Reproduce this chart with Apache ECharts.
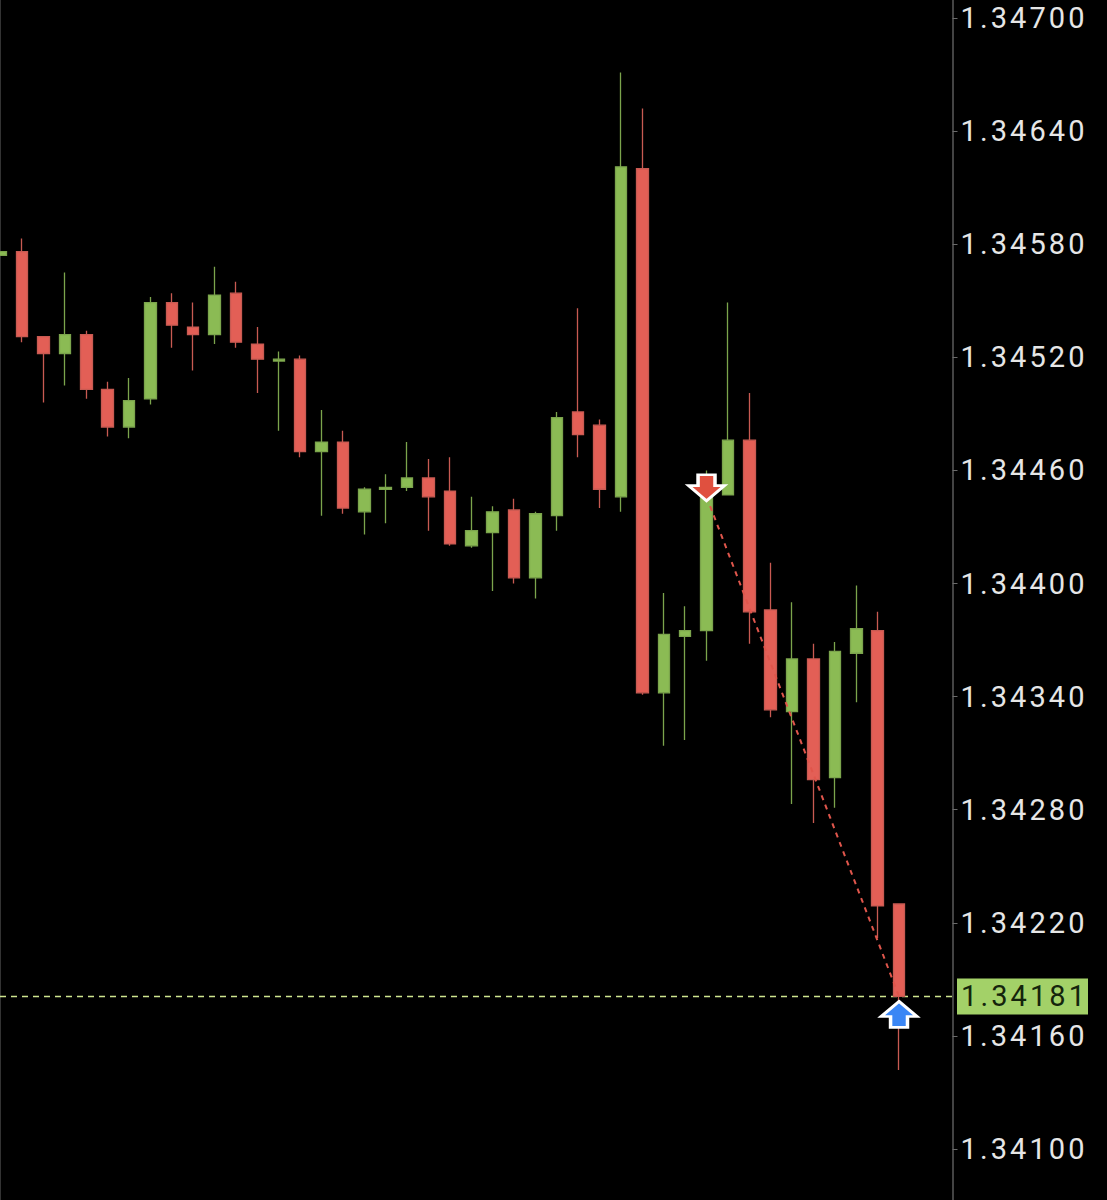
<!DOCTYPE html>
<html>
<head>
<meta charset="utf-8">
<style>
    html, body { margin: 0; padding: 0; background: #000; overflow: hidden; }
    /* first candle sits half off the page */
    #chart { width: 1117px; height: 1200px; margin-left: -10px; }
    #chart text { letter-spacing: 3.1px; }
</style>
<script src="https://cdn.jsdelivr.net/npm/echarts@6/dist/echarts.min.js"></script>
</head>
<body>
<div id="chart"></div>
<script>
// price per candle
const opens = [1.34574, 1.34576, 1.34531, 1.34522, 1.34532, 1.34503, 1.34483, 1.34498, 1.34549, 1.34536, 1.34532,
    1.34554, 1.34527, 1.34518, 1.34519, 1.34470, 1.34475, 1.34438, 1.34450, 1.34451, 1.34456, 1.34449,
    1.34420, 1.34427, 1.34439, 1.34403, 1.34436, 1.34491, 1.34484, 1.34446, 1.34620, 1.34342, 1.34372,
    1.34375, 1.34447, 1.34476, 1.34386, 1.34332, 1.34360, 1.34297, 1.34363, 1.34375, 1.34230]
const closes = [1.34576, 1.34531, 1.34522, 1.34532, 1.34503, 1.34483, 1.34497, 1.34549, 1.34537, 1.34532, 1.34553,
    1.34528, 1.34519, 1.34519, 1.34470, 1.34475, 1.34440, 1.34450, 1.34451, 1.34456, 1.34446, 1.34421,
    1.34428, 1.34438, 1.34403, 1.34437, 1.34488, 1.34479, 1.34450, 1.34621, 1.34342, 1.34373, 1.34375,
    1.34446, 1.34476, 1.34385, 1.34333, 1.34360, 1.34296, 1.34364, 1.34376, 1.34229, 1.34181]
const lows = [1.34574, 1.34528, 1.34496, 1.34505, 1.34498, 1.34478, 1.34477, 1.34495, 1.34525, 1.34513, 1.34527,
    1.34525, 1.34501, 1.34481, 1.34467, 1.34436, 1.34437, 1.34426, 1.34432, 1.34449, 1.34428, 1.34420,
    1.34419, 1.34396, 1.34400, 1.34392, 1.34428, 1.34467, 1.34440, 1.34438, 1.34341, 1.34314, 1.34317,
    1.34359, 1.34447, 1.34368, 1.34329, 1.34283, 1.34273, 1.34281, 1.34337, 1.34212, 1.34142]
const highs = [1.34576, 1.34583, 1.34531, 1.34565, 1.34534, 1.34507, 1.34509, 1.34552, 1.34554, 1.34549, 1.34568,
    1.34560, 1.34536, 1.34523, 1.34521, 1.34492, 1.34481, 1.34451, 1.34458, 1.34475, 1.34466, 1.34467,
    1.34446, 1.34441, 1.34445, 1.34438, 1.34491, 1.34546, 1.34487, 1.34671, 1.34652, 1.34395, 1.34388,
    1.34460, 1.34549, 1.34501, 1.34411, 1.34390, 1.34368, 1.34369, 1.34399, 1.34385, 1.34230]
// two empty slots on the right, between the last candle and the price axis
const categories = ['0', '1', '2', '3', '4', '5', '6', '7', '8', '9', '10', '11', '12', '13', '14', '15', '16', '17', '18',
    '19', '20', '21', '22', '23', '24', '25', '26', '27', '28', '29', '30', '31', '32', '33', '34', '35', '36', '37', '38',
    '39', '40', '41', '42', '43', '44']
const tickValues = [1.34100, 1.34160, 1.34220, 1.34280, 1.34340, 1.34400, 1.34460, 1.34520, 1.34580, 1.34640, 1.34700]
const lastPrice = 1.34181
// the trade: sell arrow, buy arrow and the dashed line between them
const tradeIndex = [33, 42]
const tradePrice = [1.34446, 1.34181]

const GREEN = '#8bbb54'
const RED = '#e35f56'
const candleData = opens.map((o, i) => [o, closes[i], lows[i], highs[i]])

const downArrow = 'path://M9 0H25V10H34L17 24L0 10H9Z'
const upArrow = 'path://M17 0L34 14H25V24H9V14H0Z'

// dashed last price line with its green tag on the axis
function renderLastPrice(params, api) {
    const box = params.coordSys
    const y = api.coord([0, api.value(0)])[1]
    const right = box.x + box.width
    return {
        type: 'group',
        children: [{
            type: 'line',
            shape: { x1: box.x + 10, y1: y, x2: right, y2: y },
            style: { stroke: '#cfe58f', lineWidth: 1.5, lineDash: [6, 5] }
        }, {
            type: 'rect',
            shape: { x: right + 4.5, y: y - 18, width: 131, height: 36 },
            style: { fill: '#a3d168' }
        }, {
            type: 'text',
            x: right + 8.5,
            y: y,
            style: {
                text: api.value(0).toFixed(5),
                fill: '#14240c',
                font: '400 29px Roboto',
                verticalAlign: 'middle'
            }
        }]
    }
}

const chart = echarts.init(document.getElementById('chart'), null, { renderer: 'svg' })
chart.setOption({
    animation: false,
    backgroundColor: '#000',
    grid: { left: 0, top: 0, width: 962.5, height: 1200 },
    xAxis: { type: 'category', data: categories, show: false },
    yAxis: {
        type: 'value',
        position: 'right',
        min: 1.34073,
        max: 1.347095,
        splitLine: { show: false },
        axisLine: { show: true, lineStyle: { color: '#5a5a5a', width: 1.5 } },
        axisTick: { show: true, length: 5, lineStyle: { color: '#6a6a6a' }, customValues: tickValues },
        axisLabel: {
            color: '#e6e6e6',
            fontFamily: 'Roboto',
            fontWeight: 400,
            fontSize: 29,
            margin: 8,
            customValues: tickValues,
            formatter: v => v.toFixed(5)
        }
    },
    graphic: [{
        type: 'line',
        shape: { x1: 10.5, y1: 0, x2: 10.5, y2: 1200 },
        style: { stroke: '#333', lineWidth: 1 }
    }],
    series: [{
        type: 'candlestick',
        data: candleData,
        barWidth: 12,
        itemStyle: {
            color: GREEN,
            color0: RED,
            borderColor: '#7ba44c',
            borderColor0: '#c85a52',
            borderWidth: 1.3
        }
    }, {
        type: 'custom',
        data: [[lastPrice]],
        encode: { y: 0 },
        renderItem: renderLastPrice,
        silent: true,
        z: 2
    }, {
        type: 'line',
        data: tradeIndex.map((x, i) => [x, tradePrice[i]]),
        symbol: 'none',
        lineStyle: { color: '#e0564c', type: [5, 5], width: 2 },
        z: 3
    }, {
        type: 'scatter',
        data: [[tradeIndex[0], tradePrice[0]]],
        symbol: downArrow,
        symbolSize: [36, 26],
        symbolOffset: [0, -9],
        itemStyle: { color: '#e0503f', borderColor: '#fff', borderWidth: 3, opacity: 1 },
        z: 4
    }, {
        type: 'scatter',
        data: [[tradeIndex[1], tradePrice[1]]],
        symbol: upArrow,
        symbolSize: [36, 26],
        symbolOffset: [0, 18],
        itemStyle: { color: '#3a86f5', borderColor: '#fff', borderWidth: 3, opacity: 1 },
        z: 4
    }]
})
</script>
</body>
</html>
